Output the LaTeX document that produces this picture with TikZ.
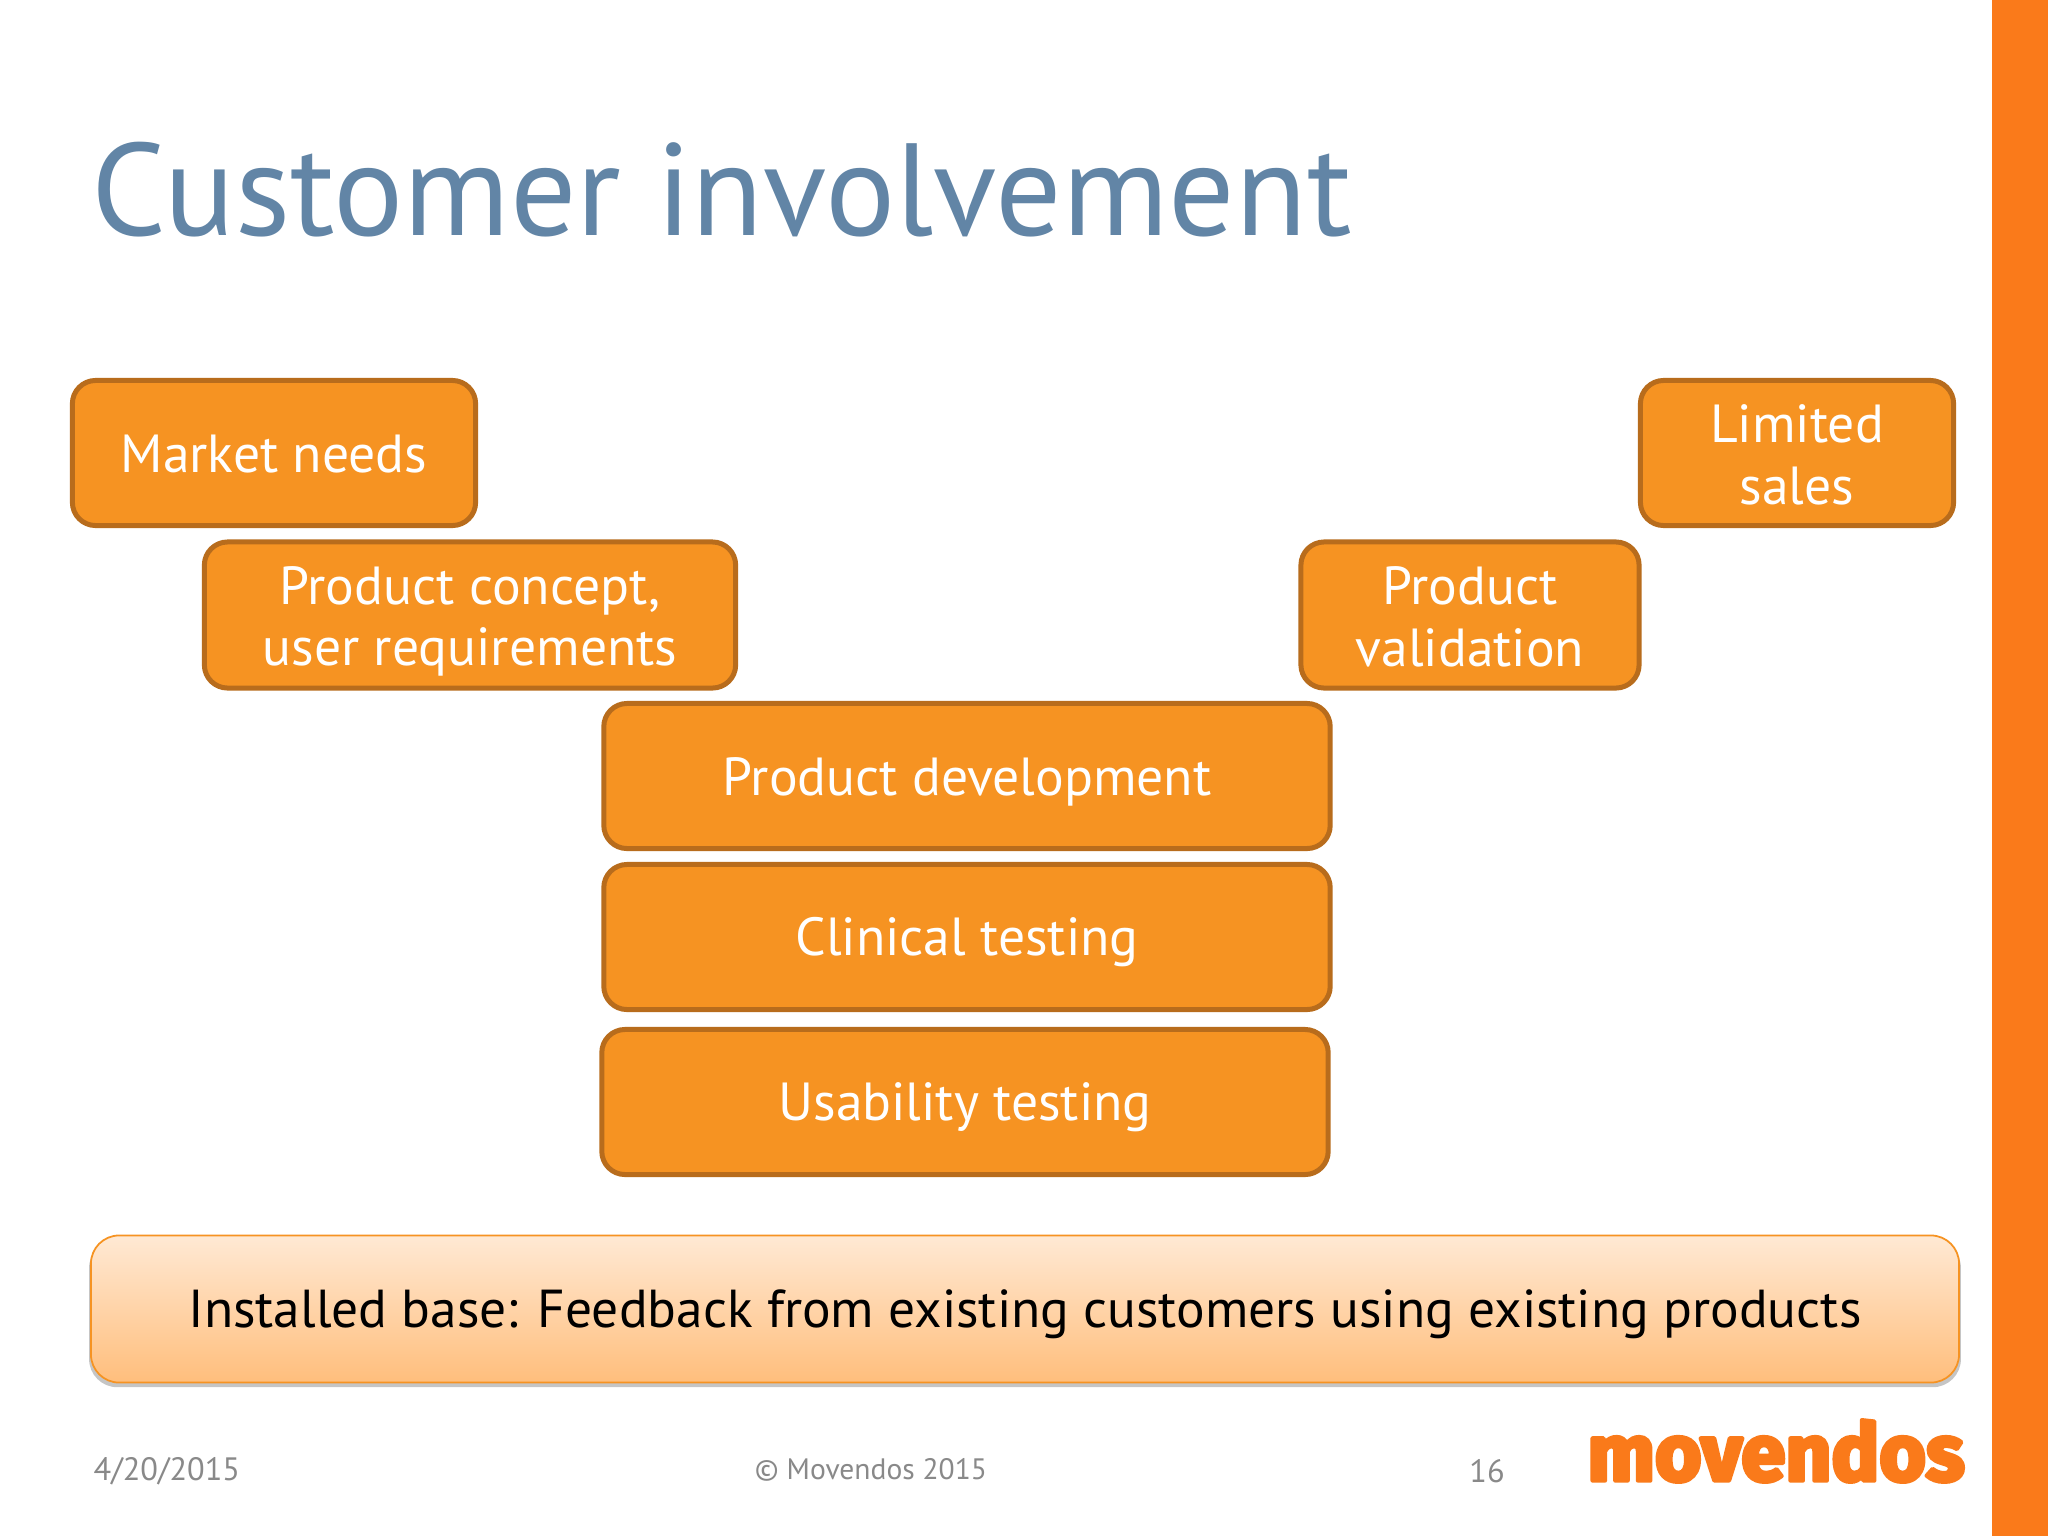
\documentclass[tikz,border=0pt]{standalone}
\usepackage{fontspec}
\usetikzlibrary{shadows}
\setmainfont{PT Sans}
\newfontfamily\logofont[FakeBold=5]{Fira Sans}
\definecolor{boxfill}{HTML}{F69322}
\definecolor{boxline}{HTML}{B86C1C}
\definecolor{barorange}{HTML}{FA7A1A}
\definecolor{titleblue}{HTML}{6285A6}
\definecolor{footgray}{HTML}{898989}
\definecolor{basetop}{HTML}{FFE9D4}
\definecolor{basebot}{HTML}{FFBE7C}
\newcommand{\topgap}{\mbox{}\\[-3pt]}
\begin{document}
\begin{tikzpicture}[x=0.01cm,y=-0.01cm,line join=round,
	linefix/.style={align=center,execute at begin node={\rule{0pt}{14pt}},execute at end node={\rule[-2.8pt]{0pt}{0pt}}},
	stagebox/.style={linefix,draw=boxline,fill=boxfill,line width=1.42pt,rounded corners=6.6pt,inner sep=0pt,text=white,font=\fontsize{15.25}{17.5}\selectfont},
	basebox/.style={linefix,draw=boxfill,line width=0.5pt,rounded corners=8pt,top color=basetop,bottom color=basebot,inner sep=0pt,font=\fontsize{15.2}{18}\selectfont,drop shadow={shadow xshift=0pt,shadow yshift=-0.045cm,shadow scale=1.002,opacity=0.45,fill=gray}},
	footer/.style={text=footgray,font=\fontsize{9.2}{11}\selectfont,inner sep=0pt}]
	\useasboundingbox (0,0) rectangle (2048,1536);
	\fill[white] (0,0) rectangle (2048,1536);
	\fill[barorange] (1992,0) rectangle (2048,1536);
	\node[text=titleblue,font=\fontsize{37.3}{44}\selectfont,inner sep=0pt,anchor=west] (title) at (91,190) {Customer involvement};
	% left arm
	\node[stagebox,minimum width=4.03cm,minimum height=1.45cm] (market) at (274,453) {Market needs};
	\node[stagebox,minimum width=5.31cm,minimum height=1.46cm] (concept) at (470,615) {\topgap Product concept,\\user requirements};
	% bottom
	\node[stagebox,minimum width=7.26cm,minimum height=1.45cm] (development) at (967,776) {Product development};
	\node[stagebox,minimum width=7.26cm,minimum height=1.45cm] (clinical) at (967,937) {Clinical testing};
	\node[stagebox,minimum width=7.26cm,minimum height=1.45cm] (usability) at (965,1102) {Usability testing};
	% right arm
	\node[stagebox,minimum width=3.38cm,minimum height=1.46cm] (validation) at (1470,615) {\topgap Product\\validation};
	\node[stagebox,minimum width=3.13cm,minimum height=1.45cm] (sales) at (1797,453) {\topgap Limited\\sales};
	\node[basebox,minimum width=18.67cm,minimum height=1.47cm] (base) at (1025,1309) {Installed base: Feedback from existing customers using existing products};
	% footer
	\node[footer,anchor=west] (date) at (93,1471) {4/20/2015};
	\node[footer,font=\fontsize{8.4}{11}\selectfont] (copy) at (871,1470) {© Movendos 2015};
	\node[footer] (page) at (1487,1471) {16};
	\node[text=barorange,font=\logofont\bfseries\fontsize{22.7}{26}\selectfont,inner sep=0pt] (logo) at (1776,1451) {movendos};
\end{tikzpicture}
\end{document}
